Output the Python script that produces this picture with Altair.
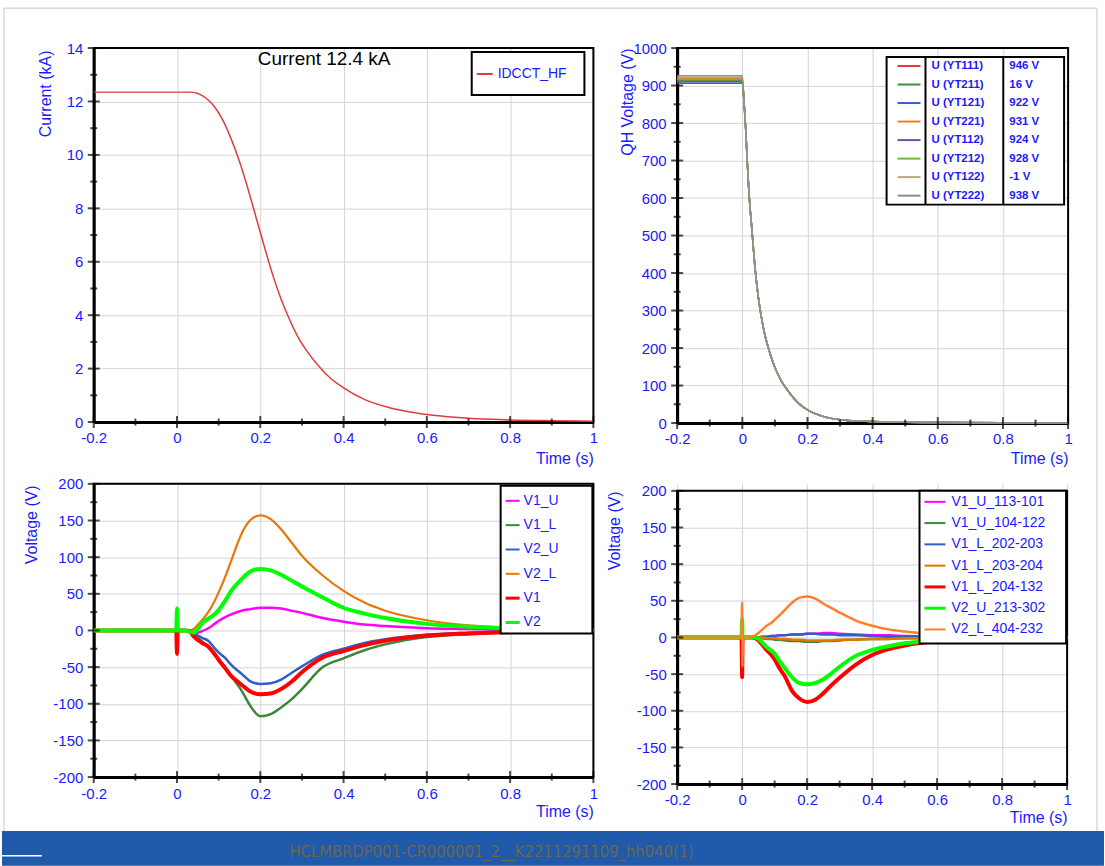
import altair as alt
import pandas as pd

FONT = "Liberation Sans"
LABEL_BLUE = "#1a1aff"

# ---------------------------------------------------------------- ticks
X_MAJOR = [-0.2, 0, 0.2, 0.4, 0.6, 0.8, 1]
X_MINOR = [-0.1, 0.1, 0.3, 0.5, 0.7, 0.9]
CUR_Y_MAJOR = [0, 2, 4, 6, 8, 10, 12, 14]
CUR_Y_MINOR = [1, 3, 5, 7, 9, 11, 13]
QH_Y_MAJOR = [0, 100, 200, 300, 400, 500, 600, 700, 800, 900, 1000]
QH_Y_MINOR = [50, 150, 250, 350, 450, 550, 650, 750, 850, 950]
V_Y_MAJOR = [-200, -150, -100, -50, 0, 50, 100, 150, 200]
V_Y_MINOR = [-175, -125, -75, -25, 25, 75, 125, 175]

# ---------------------------------------------------------------- magnet current
cur_t = [-0.2, 0.0, 0.03, 0.05, 0.07, 0.09, 0.11, 0.13, 0.15, 0.17, 0.19, 0.21,
         0.23, 0.25, 0.27, 0.29, 0.31, 0.34, 0.37, 0.40, 0.45, 0.50, 0.55, 0.60,
         0.65, 0.70, 0.80, 0.90, 1.0]
cur_ka = [12.35, 12.35, 12.35, 12.3, 12.12, 11.8, 11.3, 10.6, 9.75, 8.75, 7.65, 6.55,
          5.5, 4.6, 3.85, 3.2, 2.7, 2.1, 1.62, 1.28, 0.85, 0.58, 0.4, 0.28,
          0.2, 0.14, 0.08, 0.05, 0.03]

# ---------------------------------------------------------------- quench heater voltages
qh_names = ["U (YT111)", "U (YT211)", "U (YT121)", "U (YT221)",
            "U (YT112)", "U (YT212)", "U (YT122)", "U (YT222)"]
qh_readout = ["946 V", "16 V", "922 V", "931 V", "924 V", "928 V", "-1 V", "938 V"]
qh_colors = ["#e8393a", "#3a8f3a", "#2f5fd0", "#f07f1a",
             "#6a50b8", "#6cb830", "#bca67f", "#8f8f8f"]
qh_plateau = [915, 912, 906, 918, 910, 916, 922, 926]
qh_t = [-0.2, 0.0, 0.005, 0.01, 0.015, 0.02, 0.03, 0.04, 0.05, 0.06, 0.07, 0.08,
        0.09, 0.10, 0.12, 0.14, 0.16, 0.18, 0.20, 0.25, 0.30, 0.40, 0.50, 0.60,
        0.80, 1.0]
qh_discharge = [860, 790, 700, 620, 510, 405, 330, 275, 232, 200, 172, 148,
                112, 86, 64, 47, 35, 17, 9, 4, 2, 1.5, 1, 1]

# ---------------------------------------------------------------- coil voltages (bottom left)
bl_t = [-0.2, -0.002, 0.0, 0.002, 0.02, 0.03, 0.04, 0.05, 0.06, 0.075, 0.09, 0.1,
        0.115, 0.13, 0.155, 0.175, 0.2, 0.225, 0.25, 0.275, 0.3, 0.35, 0.4, 0.45,
        0.5, 0.6, 0.7, 0.8, 1.0]
bl_names = ["V1_U", "V1_L", "V2_U", "V2_L", "V1", "V2"]
bl_colors = ["#ff00ff", "#3a873a", "#2f5fc8", "#e8760a", "#ff0000", "#00ff00"]
bl_widths = [2.5, 2.5, 2.5, 2.2, 4, 4]
bl_v1_u = [0, 0, 0, 0, 0, 0, -2, -3, -1, 3, 9, 13, 18, 22, 27, 29, 31, 31, 30, 27,
           24, 17, 12, 8, 6, 3, 2, 1, 0]
bl_v1_l = [0, 0, 0, 0, 0, 0, -5, -10, -15, -23, -33, -40, -49, -62, -82, -102, -117,
           -114, -105, -94, -80, -50, -38, -27, -19, -9, -5, -3, -1]
bl_v2_u = [0, 0, 0, 0, 0, 0, -4, -7, -10, -14, -24, -30, -37, -47, -59, -69, -73, -72,
           -67, -58, -49, -33, -25, -17, -12, -6, -3, -1, 0]
bl_v2_l = [0, 0, 0, 0, 0, 0, 2, 8, 14, 25, 40, 52, 72, 95, 132, 150, 157, 152, 138,
           120, 102, 75, 54, 38, 27, 14, 7, 4, 2]
bl_v1 = [0, 0, -32, 0, 0, -1, -8, -13, -17, -22, -32, -40, -51, -62, -74, -83, -87,
         -86, -80, -70, -57, -37, -28, -20, -14, -7, -4, -2, 0]
bl_v2 = [0, 0, 30, 0, 0, -2, -3, 2, 10, 16, 22, 28, 40, 54, 70, 80, 84, 82, 76, 68,
         60, 45, 31, 23, 17, 9, 5, 3, 1]

# ---------------------------------------------------------------- pole voltages (bottom right)
br_t = [-0.2, -0.002, 0.0, 0.001, 0.002, 0.02, 0.03, 0.04, 0.05, 0.06, 0.075, 0.09,
        0.1, 0.115, 0.13, 0.155, 0.175, 0.2, 0.225, 0.25, 0.275, 0.3, 0.35, 0.4,
        0.45, 0.5, 0.6, 0.7, 0.8, 1.0]
br_names = ["V1_U_113-101", "V1_U_104-122", "V1_L_202-203", "V1_L_203-204",
            "V1_L_204-132", "V2_U_213-302", "V2_L_404-232"]
br_colors = ["#ff00ff", "#3a873a", "#2f5fc8", "#e07800", "#ff0000", "#00ff00", "#ff7f2a"]
br_widths = [2.5, 2.5, 2.5, 2.5, 4, 4, 2.5]
br_113_101 = [0, 0, 0, 0, 0, 0, 0, 0, 0, 1, 1, 2, 2, 3, 3, 4, 4, 5, 5, 6,
              6, 5, 4, 3, 3, 2, 1, 1, 0, 0]
br_104_122 = [0, 0, 0, 0, 0, 0, 0, 0, -1, -1, -2, -2, -3, -3, -4, -5, -5, -6, -6, -5,
              -5, -4, -3, -2, -2, -1, -1, 0, 0, 0]
br_202_203 = [0, 0, 0, 0, 0, 0, 0, 0, 0, 1, 1, 2, 2, 3, 3, 4, 4, 5, 5, 4,
              4, 3, 3, 2, 1, 1, 1, 0, 0, 0]
br_203_204 = [0, 0, 0, 0, 0, 0, 0, 0, 0, 0, -1, -1, -1, -2, -2, -3, -3, -4, -4, -4,
              -4, -3, -3, -2, -2, -1, -1, 0, 0, 0]
br_204_132 = [0, 0, -54, -10, 0, 0, 0, -1, -4, -9, -17, -24, -30, -42, -52, -74, -83,
              -88, -85, -76, -65, -55, -37, -24, -16, -11, -5, -3, -1, 0]
br_213_302 = [0, 0, 26, 0, 0, 0, 0, 0, -2, -6, -13, -18, -22, -32, -41, -55, -62, -64,
              -62, -57, -49, -40, -25, -17, -12, -8, -4, -2, -1, 0]
br_404_232 = [0, 0, 48, -40, 0, 0, 1, 3, 6, 10, 16, 20, 24, 30, 37, 48, 54, 56, 53,
              46, 40, 34, 23, 16, 11, 8, 4, 2, 1, 0]

ONE = pd.DataFrame({"k": [0]})


def px_rect(x0, x1, y0, y1, **mark):
    return alt.Chart(ONE).mark_rect(**mark).encode(
        x=alt.value(x0), x2=alt.value(x1), y=alt.value(y0), y2=alt.value(y1))


def px_text(txt, x, y, **mark):
    return alt.Chart(ONE).mark_text(text=txt, **mark).encode(x=alt.value(x), y=alt.value(y))


def x_scale():
    return alt.Scale(domain=[-0.2, 1.0], nice=False, zero=False)


def y_scale(dom, rng=None):
    if rng is None:
        return alt.Scale(domain=dom, nice=False, zero=False)
    return alt.Scale(domain=dom, range=rng, nice=False, zero=False)


def curves(t, series, xs, ys, x_axis, y_axis):
    out = []
    for i, (vals, color, width) in enumerate(series):
        df = pd.DataFrame({"t": t, "v": vals})
        out.append(alt.Chart(df).mark_line(
            interpolate="monotone", color=color, strokeWidth=width).encode(
            x=alt.X("t:Q", scale=xs, axis=x_axis if i == 0 else None),
            y=alt.Y("v:Q", scale=ys, axis=y_axis if i == 0 else None)))
    return out


def cross_ticks(xs, ys, y_major, y_minor, axis_y):
    out = []
    for vals, size in ((X_MAJOR, 12), (X_MINOR, 7)):
        out.append(alt.Chart(pd.DataFrame({"t": vals})).mark_tick(
            orient="vertical", size=size, thickness=2, color="black").encode(
            x=alt.X("t:Q", scale=xs, axis=None), y=alt.value(axis_y)))
    for vals, size in ((y_major, 12), (y_minor, 7)):
        out.append(alt.Chart(pd.DataFrame({"v": vals})).mark_tick(
            orient="horizontal", size=size, thickness=2, color="black").encode(
            y=alt.Y("v:Q", scale=ys, axis=None), x=alt.value(0)))
    return out


def legend(names, colors, widths, box, sw, tx, rows, size, weight="normal",
           readout=None, rx=None, seps=()):
    n = len(names)
    df = pd.DataFrame({"name": names, "row": list(range(n)), "c": colors, "w": widths})
    if readout is not None:
        df["val"] = readout
    row = alt.Y("row:Q", scale=alt.Scale(domain=[0, n - 1], range=list(rows)), axis=None)
    parts = [px_rect(*box, fill="white", stroke="black", strokeWidth=2)]
    for sx in seps:
        parts.append(alt.Chart(ONE).mark_rule(color="black", strokeWidth=2).encode(
            x=alt.value(sx), y=alt.value(box[2]), y2=alt.value(box[3])))
    parts.append(alt.Chart(df).mark_rule().encode(
        x=alt.value(sw[0]), x2=alt.value(sw[1]), y=row,
        color=alt.Color("c:N", scale=None),
        strokeWidth=alt.StrokeWidth("w:Q", scale=None)))
    parts.append(alt.Chart(df).mark_text(
        align="left", baseline="middle", font=FONT, fontSize=size,
        fontWeight=weight, color=LABEL_BLUE).encode(x=alt.value(tx), y=row, text="name:N"))
    if readout is not None:
        parts.append(alt.Chart(df).mark_text(
            align="left", baseline="middle", font=FONT, fontSize=size,
            fontWeight=weight, color=LABEL_BLUE).encode(x=alt.value(rx), y=row, text="val:N"))
    return parts


def x_axis(w, title_y):
    return alt.Axis(values=X_MAJOR, labelExpr="'' + datum.value", title="Time (s)",
                    titleX=w, titleY=title_y, titleAlign="right", titleBaseline="middle",
                    titleAngle=0)


def y_axis(values, title, tx, ty):
    return alt.Axis(values=values, labelExpr="'' + datum.value", title=title,
                    titleX=tx, titleY=ty, titleAngle=270, titleAlign="right",
                    titleBaseline="middle")


def panel(layers, w, h):
    return alt.layer(*layers).resolve_scale(x="independent", y="independent").properties(
        width=w, height=h)


# ---------------------------------------------------------------- top left: current
W1, H1 = 501, 375
xs, ys = x_scale(), y_scale([0, 14])
page = [
    px_rect(-92, 1013, -46, 820, fill="white", fillOpacity=0),
    px_rect(-90, 1006, -40, 822, fill="white", fillOpacity=0, stroke="#c8c8c8", strokeWidth=1),
    px_rect(-92, 1013, 785, 820, fill="#1f5aab"),
    px_text("HCLMBRDP001-CR000001_2__K2211291109_hh040(1)", 399, 806,
            font="Liberation Sans Narrow, DejaVu Sans Condensed, sans-serif",
            fontSize=16.5, fontWeight="normal", color="#6b6650", align="center",
            baseline="middle"),
    alt.Chart(ONE).mark_rule(color="white", strokeWidth=1.5).encode(
        x=alt.value(-92), x2=alt.value(-52), y=alt.value(810)),
]
tl_layers = page + [px_rect(0, W1, 0, H1, fill="white", fillOpacity=0, stroke="black", strokeWidth=2)]
tl_layers += curves(cur_t, [(cur_ka, "#e03c3c", 1.5)], xs, ys,
                    x_axis(W1, 37), y_axis(CUR_Y_MAJOR, "Current (kA)", -48, 2))
tl_layers += cross_ticks(xs, ys, CUR_Y_MAJOR, CUR_Y_MINOR, H1)
tl_layers += legend(["IDCCT_HF"], ["#e03c3c"], [2], (379, 492, 4, 47), (384, 400), 405,
                    (26, 26), 14)
tl_layers.append(px_text("Current 12.4 kA", 231, 11, font=FONT, fontSize=19,
                         color="black", align="center", baseline="middle"))
tl = panel(tl_layers, W1, H1)

# ---------------------------------------------------------------- top right: QH voltages
W2, H2 = 392, 376
xs, ys = x_scale(), y_scale([0, 1000])
qh_series = [([p, p] + qh_discharge, c, 1.5) for p, c in zip(qh_plateau, qh_colors)]
tr_layers = [px_rect(0, W2, 0, H2, fill="white", fillOpacity=0, stroke="black", strokeWidth=2)]
tr_layers += curves(qh_t, qh_series, xs, ys, x_axis(W2, 36),
                    y_axis(QH_Y_MAJOR, "QH Voltage (V)", -50, 0))
tr_layers += cross_ticks(xs, ys, QH_Y_MAJOR, QH_Y_MINOR, H2)
tr_layers += legend(qh_names, qh_colors, [2] * 8, (210, 388, 9, 157), (221, 244), 255,
                    (18, 148), 11.5, weight="bold", readout=qh_readout, rx=333,
                    seps=(249, 327))
tr = panel(tr_layers, W2, H2)

# ---------------------------------------------------------------- bottom left: coil voltages
W3, H3 = 501, 294
xs, ys = x_scale(), y_scale([-200, 200])
bl_vals = [bl_v1_u, bl_v1_l, bl_v2_u, bl_v2_l, bl_v1, bl_v2]
bl_layers = [px_rect(0, W3, 0, H3, fill="white", fillOpacity=0, stroke="black", strokeWidth=2)]
bl_layers += curves(bl_t, list(zip(bl_vals, bl_colors, bl_widths)), xs, ys,
                    x_axis(W3, 35), y_axis(V_Y_MAJOR, "Voltage (V)", -62, 1))
bl_layers += cross_ticks(xs, ys, V_Y_MAJOR, V_Y_MINOR, H3)
bl_layers += legend(bl_names, bl_colors, [2, 2, 2, 2, 3, 3], (408, 500, 2, 150),
                    (413, 427), 431, (17, 139), 14)
bl = panel(bl_layers, W3, H3)

# ---------------------------------------------------------------- bottom right: pole voltages
W4, H4, TOP4 = 391, 301, 7
xs, ys = x_scale(), y_scale([-200, 200], [H4, TOP4])
br_vals = [br_113_101, br_104_122, br_202_203, br_203_204, br_204_132, br_213_302, br_404_232]
br_layers = [px_rect(0, W4, TOP4, H4, fill="white", fillOpacity=0, stroke="black", strokeWidth=2)]
br_layers += curves(br_t, list(zip(br_vals, br_colors, br_widths)), xs, ys,
                    x_axis(W4, 34), y_axis(V_Y_MAJOR, "Voltage (V)", -63, 7))
br_layers += cross_ticks(xs, ys, V_Y_MAJOR, V_Y_MINOR, H4)
br_layers += legend(br_names, br_colors, [2, 2, 2, 2, 3, 3, 2], (243, 390, 7, 160),
                    (248, 269), 275, (18, 146), 14)
br = panel(br_layers, W4, H4)

chart = alt.concat(
    tl, tr, bl, br, columns=2, spacing={"row": 61, "column": 84}, bounds="flush"
).properties(padding=0, background="white").configure_view(
    stroke="transparent"
).configure_axis(
    labelFont=FONT, labelFontSize=15, labelColor=LABEL_BLUE,
    titleFont=FONT, titleFontSize=16, titleColor=LABEL_BLUE, titleFontWeight="normal",
    domainColor="black", domainWidth=3, gridColor="#d4d4d4", gridWidth=1,
    ticks=False, tickSize=0, labelFlush=False, labelOverlap=False,
).configure_axisX(labelPadding=9).configure_axisY(labelPadding=11)

chart.save("out.html", embed_options={"renderer": "svg", "actions": False})
